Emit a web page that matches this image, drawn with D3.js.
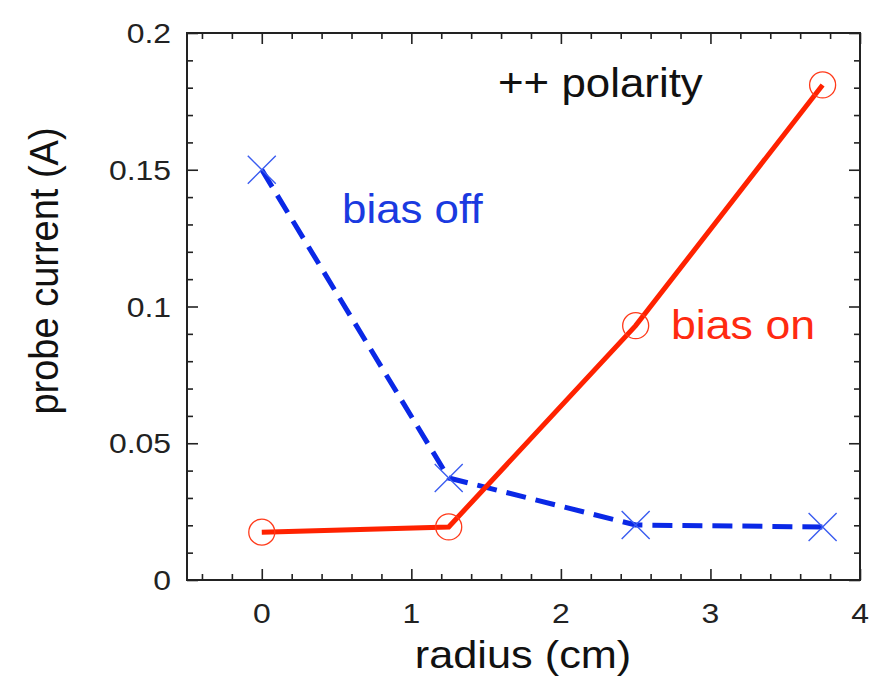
<!DOCTYPE html>
<html><head><meta charset="utf-8">
<script src="https://cdn.jsdelivr.net/npm/d3@7"></script>
<style>body{margin:0;background:#fff}svg{display:block}text{font-family:"Liberation Sans",Arial,Helvetica,sans-serif}</style>
</head><body><svg id="c" width="871" height="682"></svg>
<script>
const radius = [0, 1.25, 2.5, 3.75];
const biasOn = [0.0175, 0.0194, 0.093, 0.181];
const biasOff = [0.150, 0.0373, 0.0201, 0.0194];
const xTicks = [0, 1, 2, 3, 4];
const yTicks = [0, 0.05, 0.1, 0.15, 0.2];
const yTickLabels = ["0", "0.05", "0.1", "0.15", "0.2"];

const W = 871, H = 682;
const m = {l: 187, r: 11, t: 33, b: 102};
const svg = d3.select("#c");
const x = d3.scaleLinear().domain([-0.5, 4]).range([m.l, W - m.r]);
const y = d3.scaleLinear().domain([0, 0.2]).range([H - m.b, m.t]);

const axCol = "#222";
const xMinor = d3.range(-0.4, 4.0001, 0.2).map(v => +v.toFixed(2)).filter(v => !xTicks.includes(Math.round(v*10)/10));
const yMinor = d3.range(0.01, 0.2, 0.01).map(v => +v.toFixed(3)).filter(v => Math.round(v*1000) % 50 !== 0);

function tickAxis(axisGen, g, len) {
  g.call(axisGen.tickSize(len).tickFormat(""))
   .call(s => s.select(".domain").remove())
   .call(s => s.selectAll("line").attr("stroke", axCol).attr("stroke-width", 1.6));
}
tickAxis(d3.axisBottom(x).tickValues(xTicks), svg.append("g").attr("transform", `translate(0,${H-m.b})`), -11);
tickAxis(d3.axisBottom(x).tickValues(xMinor), svg.append("g").attr("transform", `translate(0,${H-m.b})`), -6);
tickAxis(d3.axisTop(x).tickValues(xTicks), svg.append("g").attr("transform", `translate(0,${m.t})`), -11);
tickAxis(d3.axisTop(x).tickValues(xMinor), svg.append("g").attr("transform", `translate(0,${m.t})`), -6);
tickAxis(d3.axisLeft(y).tickValues(yTicks), svg.append("g").attr("transform", `translate(${m.l},0)`), -11);
tickAxis(d3.axisLeft(y).tickValues(yMinor), svg.append("g").attr("transform", `translate(${m.l},0)`), -6);
tickAxis(d3.axisRight(y).tickValues(yTicks), svg.append("g").attr("transform", `translate(${W-m.r},0)`), -11);
tickAxis(d3.axisRight(y).tickValues(yMinor), svg.append("g").attr("transform", `translate(${W-m.r},0)`), -6);

svg.append("rect").attr("x", m.l).attr("y", m.t).attr("width", W-m.l-m.r).attr("height", H-m.t-m.b)
  .attr("fill", "none").attr("stroke", axCol).attr("stroke-width", 2);

// tick labels
const tsx = 1.14;
svg.append("g").selectAll("text").data(xTicks).join("text")
  .attr("transform", d => `translate(${x(d)},623) scale(${tsx},1)`).attr("text-anchor", "middle")
  .attr("font-size", 28).attr("fill", "#222").text(d => d);
svg.append("g").selectAll("text").data(yTicks).join("text")
  .attr("transform", d => `translate(171,${y(d) + 10}) scale(${tsx},1)`).attr("text-anchor", "end")
  .attr("font-size", 28).attr("fill", "#222").text((d,i) => yTickLabels[i]);

// axis titles
svg.append("text").attr("transform", "translate(523,668) scale(1.14,1)").attr("text-anchor", "middle")
  .attr("font-size", 38).attr("fill", "#111").text("radius (cm)");
svg.append("text").attr("transform", `translate(58,271) rotate(-90) scale(1,1.08)`).attr("text-anchor", "middle")
  .attr("font-size", 38).attr("fill", "#111").text("probe current (A)");

// lines
const line = (vals) => d3.line().x((d,i) => x(radius[i])).y(d => y(d))(vals);
svg.append("path").attr("d", line(biasOff)).attr("fill", "none")
  .attr("stroke", "#0a28e6").attr("stroke-width", 5).attr("stroke-dasharray", "20,10");
svg.append("path").attr("d", line(biasOn)).attr("fill", "none")
  .attr("stroke", "#ff2200").attr("stroke-width", 5);

// markers
svg.append("g").selectAll("circle").data(biasOn).join("circle")
  .attr("cx", (d,i) => x(radius[i])).attr("cy", d => y(d)).attr("r", 13)
  .attr("fill", "none").attr("stroke", "#ff3a1a").attr("stroke-width", 1.3);
const s = 14;
svg.append("g").selectAll("path").data(biasOff).join("path")
  .attr("d", (d,i) => { const cx = x(radius[i]), cy = y(d);
    return `M${cx-s},${cy-s}L${cx+s},${cy+s}M${cx-s},${cy+s}L${cx+s},${cy-s}`; })
  .attr("stroke", "#3a5cf0").attr("stroke-width", 1.4).attr("fill", "none");

// annotations
const asx = 1.07;
svg.append("text").attr("transform", `translate(498,97) scale(${asx},1)`).attr("font-size", 41).attr("fill", "#111").text("++ polarity");
svg.append("text").attr("transform", `translate(342,223) scale(${asx},1)`).attr("font-size", 41).attr("fill", "#1a3ae0").text("bias off");
svg.append("text").attr("transform", `translate(671,339) scale(1.09,1)`).attr("font-size", 41).attr("fill", "#ff2a10").text("bias on");
</script></body></html>
